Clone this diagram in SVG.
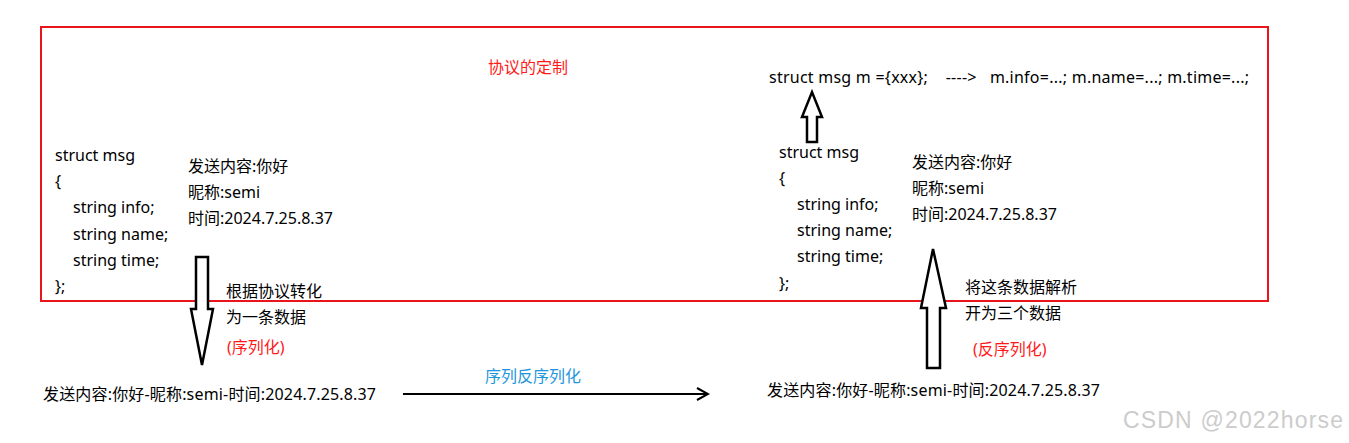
<svg xmlns="http://www.w3.org/2000/svg" width="1349" height="443" viewBox="0 0 1349 443">
<style>
text{font-family:"Noto Sans","Noto Sans CJK SC",sans-serif;font-size:16px;fill:#000}
.red{fill:#ff1a1a}
.blue{fill:#1e96dc}
.wm{fill:#cccccc;font-size:23px;font-family:"Liberation Sans","Noto Sans CJK SC",sans-serif}
.hollow{fill:#fff;stroke:#000;stroke-width:2.5;stroke-linejoin:miter}
</style>
<defs>
<marker id="open" markerWidth="14" markerHeight="14" refX="12" refY="7" orient="auto" markerUnits="userSpaceOnUse">
<path d="M1,1 L12,7 L1,13" fill="none" stroke="#000" stroke-width="2"/>
</marker>
</defs>
<rect width="1349" height="443" fill="#fff"/>
<g id="frame">
<rect x="41" y="27" width="1227" height="274" fill="none" stroke="#e8161c" stroke-width="2"/>
<text class="red" x="488" y="73" font-size="15">协议的定制</text>
</g>
<g id="left-struct">
<text x="55" y="161">struct msg</text>
<text x="55" y="187">{</text>
<text x="73" y="213">string info;</text>
<text x="73" y="240">string name;</text>
<text x="73" y="266">string time;</text>
<text x="55" y="292">};</text>
</g>
<g id="left-data">
<text x="188" y="172">发送内容:你好</text>
<text x="188" y="198">昵称:semi</text>
<text x="188" y="224">时间:2024.7.25.8.37</text>
</g>
<g id="left-label">
<text x="226" y="297">根据协议转化</text>
<text x="226" y="323">为一条数据</text>
<text class="red" x="227" y="353">(序列化)</text>
</g>
<g id="right-struct">
<text x="779" y="158">struct msg</text>
<text x="779" y="184">{</text>
<text x="797" y="210">string info;</text>
<text x="797" y="236">string name;</text>
<text x="797" y="262">string time;</text>
<text x="779" y="289">};</text>
</g>
<g id="right-data">
<text x="912" y="168">发送内容:你好</text>
<text x="912" y="194">昵称:semi</text>
<text x="912" y="220">时间:2024.7.25.8.37</text>
</g>
<g id="right-label">
<text x="965" y="293">将这条数据解析</text>
<text x="965" y="319">开为三个数据</text>
<text class="red" x="973" y="355">(反序列化)</text>
</g>
<g id="struct-assign">
<text x="769" y="83" textLength="480" lengthAdjust="spacing" xml:space="preserve">struct msg m ={xxx};    ---->   m.info=...; m.name=...; m.time=...;</text>
</g>
<g id="bottom-left">
<text x="43" y="400" textLength="333" lengthAdjust="spacing">发送内容:你好-昵称:semi-时间:2024.7.25.8.37</text>
</g>
<g id="bottom-right">
<text x="767" y="396" textLength="333" lengthAdjust="spacing">发送内容:你好-昵称:semi-时间:2024.7.25.8.37</text>
</g>
<g id="connectors">
<path class="hollow" d="M196,257 L208,257 L208,309 L213,309 L202,365 L191,309 L196,309 Z"/>
<path class="hollow" d="M927,368 L940,368 L940,308 L946,308 L933,249 L921,308 L927,308 Z"/>
<path class="hollow" d="M807,142 L817,142 L817,117 L822,117 L812,92 L802,117 L807,117 Z"/>
<line x1="403" y1="394" x2="708" y2="394" stroke="#000" stroke-width="2" marker-end="url(#open)"/>
<text class="blue" x="485" y="382">序列反序列化</text>
</g>
<text class="wm" x="1123" y="428" textLength="220" lengthAdjust="spacing">CSDN @2022horse</text>
</svg>
